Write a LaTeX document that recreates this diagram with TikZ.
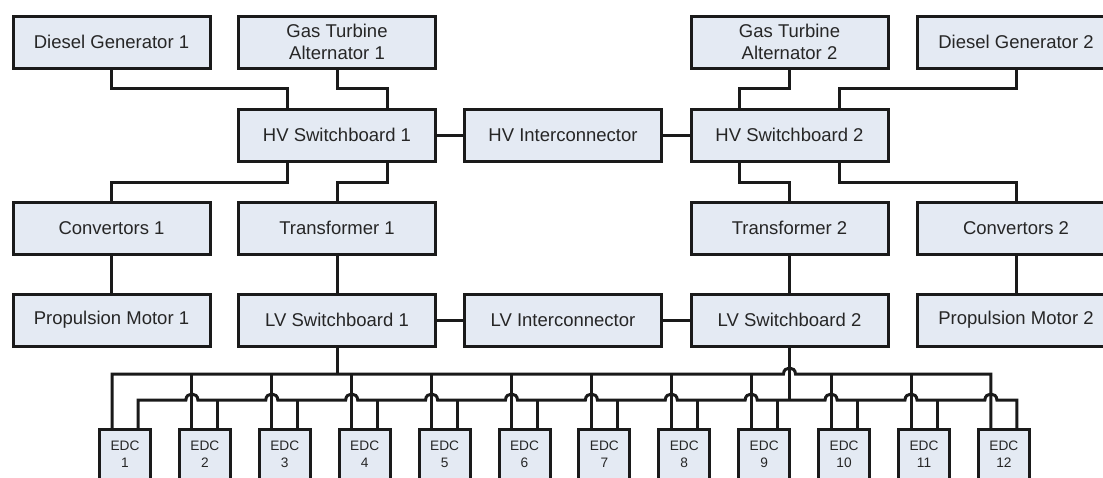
\documentclass[tikz,border=0pt]{standalone}
\usepackage{fontspec}
\setmainfont{Liberation Sans}
\definecolor{boxfill}{HTML}{E4EAF3}
\definecolor{boxline}{HTML}{1A1A1A}
\definecolor{txt}{HTML}{262626}
\tikzset{
  blk/.style={draw=boxline, fill=boxfill, line width=3pt, minimum width=197pt, minimum height=52pt,
    inner sep=0pt, outer sep=0pt, text=txt, font=\fontsize{18.5}{22}\selectfont, align=center},
  edc/.style={blk, minimum width=51pt, minimum height=50pt, font=\fontsize{13.7}{17}\selectfont},
  wire/.style={draw=boxline, line width=3pt},
}
\begin{document}
\begin{tikzpicture}[x=1pt,y=-1pt]
\path[use as bounding box] (0,0) rectangle (1103,477);
\clip (0,0) rectangle (1103,477);
% bus levels
\coordinate (ub) at (0,374);
\coordinate (ubh) at (0,366);
\coordinate (lb) at (0,400);
\coordinate (lbh) at (0,392);
% blocks
\node[blk] (dg1) at (111.5,42) {Diesel Generator 1};
\node[blk] (gta1) at (337,42) {Gas Turbine\\Alternator 1};
\node[blk] (gta2) at (789.5,42) {Gas Turbine\\Alternator 2};
\node[blk] (dg2) at (1016,42) {Diesel Generator 2};
\node[blk] (hv1) at (337,135) {HV Switchboard 1};
\node[blk] (hvic) at (563,135) {HV Interconnector};
\node[blk] (hv2) at (789.5,135) {HV Switchboard 2};
\node[blk] (cv1) at (111.5,228) {Convertors 1};
\node[blk] (tr1) at (337,228) {Transformer 1};
\node[blk] (tr2) at (789.5,228) {Transformer 2};
\node[blk] (cv2) at (1016,228) {Convertors 2};
\node[blk] (pm1) at (111.5,320) {Propulsion Motor 1};
\node[blk] (lv1) at (337,320) {LV Switchboard 1};
\node[blk] (lvic) at (563,320) {LV Interconnector};
\node[blk] (lv2) at (789.5,320) {LV Switchboard 2};
\node[blk] (pm2) at (1016,320) {Propulsion Motor 2};
\foreach \i in {1,...,12} \node[edc] (e\i) at ({125+(\i-1)*79.9},454.5) {EDC\\\i};
% upper connectors
\draw[wire] (dg1.south) -- ++(0,20) -| ([xshift=-50pt]hv1.north);
\draw[wire] (gta1.south) -- ++(0,20) -| ([xshift=50pt]hv1.north);
\draw[wire] (gta2.south) -- ++(0,20) -| ([xshift=-50pt]hv2.north);
\draw[wire] (dg2.south) -- ++(0,20) -| ([xshift=50pt]hv2.north);
\draw[wire] ([xshift=-50pt]hv1.south) -- ++(0,21) -| (cv1.north);
\draw[wire] ([xshift=50pt]hv1.south) -- ++(0,21) -| (tr1.north);
\draw[wire] ([xshift=-50pt]hv2.south) -- ++(0,21) -| (tr2.north);
\draw[wire] ([xshift=50pt]hv2.south) -- ++(0,21) -| (cv2.north);
\draw[wire] (hv1.east) -- (hvic.west);
\draw[wire] (hvic.east) -- (hv2.west);
\draw[wire] (cv1.south) -- (pm1.north);
\draw[wire] (tr1.south) -- (lv1.north);
\draw[wire] (tr2.south) -- (lv2.north);
\draw[wire] (cv2.south) -- (pm2.north);
\draw[wire] (lv1.east) -- (lvic.west);
\draw[wire] (lvic.east) -- (lv2.west);
% upper bus (hops over LV Switchboard 2 feeder)
\draw[wire] ([xshift=-13pt]e1.north) -- ([xshift=-13pt]e1.north |- ub)
  -- ([xshift=-6pt]lv2.south |- ub)
  .. controls ([xshift=-6pt]lv2.south |- ubh) and ([xshift=6pt]lv2.south |- ubh) .. ([xshift=6pt]lv2.south |- ub)
  -- ([xshift=-13pt]e12.north |- ub) -- ([xshift=-13pt]e12.north);
\draw[wire] (lv1.south) -- (lv1.south |- ub);
\draw[wire] (lv2.south) -- (lv2.south |- lb);
\foreach \i in {2,...,11} \draw[wire] ([xshift=-13pt]e\i.north) -- ([xshift=-13pt]e\i.north |- ub);
\foreach \i in {2,...,11} \draw[wire] ([xshift=13pt]e\i.north) -- ([xshift=13pt]e\i.north |- lb);
% lower bus (hops over left feeders)
\draw[wire] ([xshift=13pt]e1.north) -- ([xshift=13pt]e1.north |- lb)
  foreach \i in {2,...,12} { -- ([xshift=-19pt]e\i.north |- lb)
    .. controls ([xshift=-19pt]e\i.north |- lbh) and ([xshift=-7pt]e\i.north |- lbh) .. ([xshift=-7pt]e\i.north |- lb) }
  -- ([xshift=13pt]e12.north |- lb) -- ([xshift=13pt]e12.north);
\end{tikzpicture}
\end{document}
